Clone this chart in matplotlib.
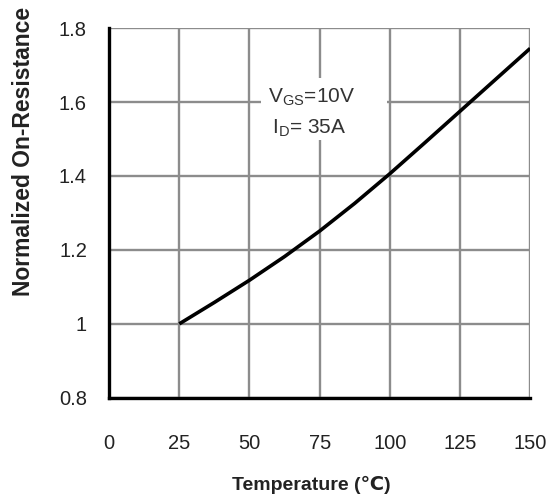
import numpy as np
import matplotlib.pyplot as plt
from matplotlib.patches import Rectangle

plt.rcParams['font.family'] = ['Liberation Sans', 'DejaVu Sans']

# data
temp = [25, 37.5, 50, 62.5, 75, 87.5, 100, 112.5, 125, 137.5, 150]
r_norm = [1.0, 1.058, 1.118, 1.182, 1.251, 1.326, 1.406, 1.49, 1.575, 1.66, 1.745]
xticks = [0, 25, 50, 75, 100, 125, 150]
yticks = [0.8, 1.0, 1.2, 1.4, 1.6, 1.8]
ytick_labels = ['0.8', '1', '1.2', '1.4', '1.6', '1.8']

fig = plt.figure(figsize=(5.54, 5.01), dpi=100)
ax = fig.add_axes([0.197, 0.206, 0.76, 0.738])

ax.plot(temp, r_norm, color='black', lw=2.6, solid_capstyle='butt',
        solid_joinstyle='round', zorder=3)

ax.set_xlim(0, 150)
ax.set_ylim(0.8, 1.8)
ax.set_xticks(xticks)
ax.set_yticks(yticks)
ax.set_yticklabels(ytick_labels)
ax.grid(True, color='#8c8c8c', lw=1.7)
ax.set_axisbelow(True)

for s in ['top', 'right']:
    ax.spines[s].set_visible(False)
for s in ['left', 'bottom']:
    ax.spines[s].set_linewidth(2.4)
    ax.spines[s].set_color('black')
    ax.spines[s].set_zorder(4)

ax.tick_params(length=0, labelsize=14.5, colors='#222222')
ax.tick_params(axis='x', pad=26)
ax.tick_params(axis='y', pad=16)

ax.set_xlabel('Temperature (\u2103)', fontsize=14, fontweight='bold', color='#222222')
ax.xaxis.set_label_coords(0.48, -0.21)
ax.set_ylabel('Normalized On-Resistance', fontsize=16.5, fontweight='bold', color='#222222')
ax.yaxis.set_label_coords(-0.175, 0.665)

# white patch behind the condition text
ax.add_patch(Rectangle((54, 1.497), 45, 0.168, facecolor='white', edgecolor='none', zorder=2.5))
ax.text(56.5, 1.613, 'V$_{\\mathregular{GS}}$=10V', fontsize=15, color='#333333',
        va='center', ha='left', zorder=2.6)
ax.text(58, 1.53, 'I$_{\\mathregular{D}}$= 35A', fontsize=15, color='#333333',
        va='center', ha='left', zorder=2.6)

fig.savefig('out.png', dpi=100)
